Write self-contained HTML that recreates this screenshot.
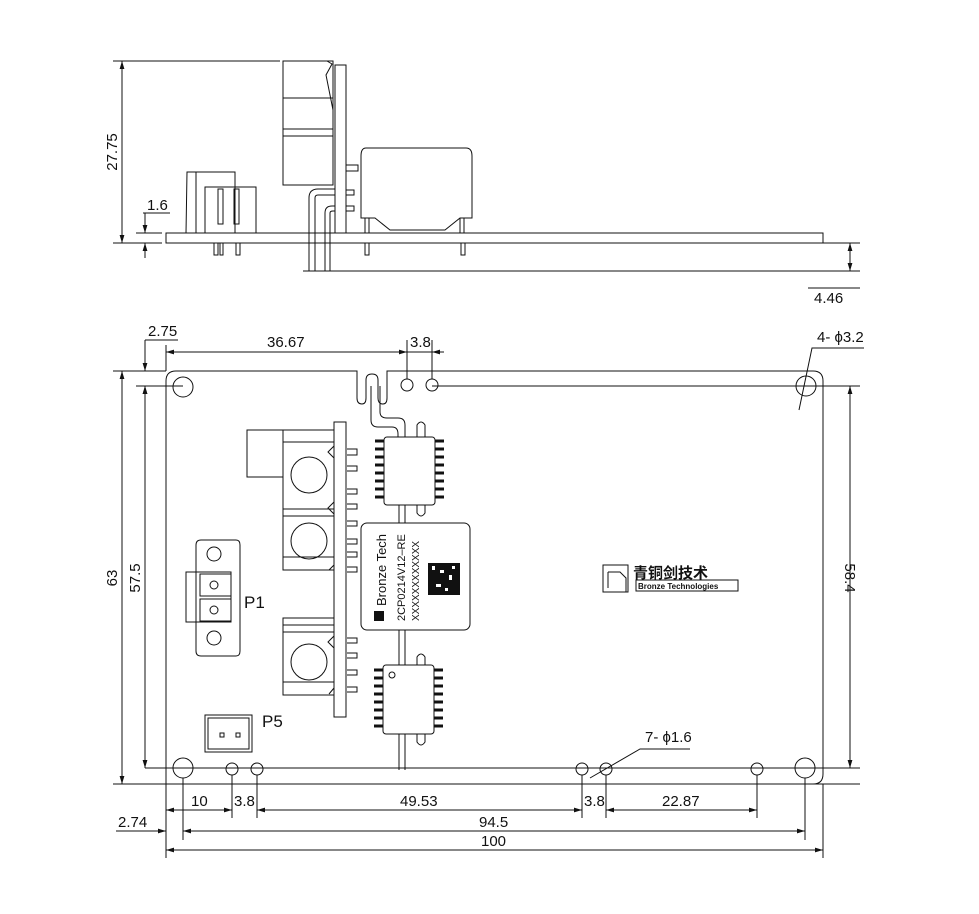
<!DOCTYPE html>
<html><head><meta charset="utf-8"><style>
html,body{margin:0;padding:0;background:#fff}
svg{display:block}
text{font-family:"Liberation Sans","Noto Sans CJK SC",sans-serif;fill:#111}
</style></head><body>
<svg width="979" height="914" viewBox="0 0 979 914" xmlns="http://www.w3.org/2000/svg">
<defs>
<marker id="a" viewBox="0 0 10 6" refX="10" refY="3" markerWidth="8" markerHeight="5" orient="auto-start-reverse"><path d="M0,0L10,3L0,6z" fill="#111"/></marker>
</defs>
<g stroke="#111" stroke-width="1" fill="none">
<line x1="113" y1="61" x2="280" y2="61"/>
<line x1="122" y1="61" x2="122" y2="243" marker-start="url(#a)" marker-end="url(#a)"/>
<line x1="113" y1="243" x2="162" y2="243"/>
<line x1="136" y1="233" x2="162" y2="233"/>
<line x1="145" y1="213" x2="145" y2="233" marker-end="url(#a)"/>
<line x1="145" y1="243" x2="145" y2="258" marker-start="url(#a)"/>
<line x1="143" y1="213" x2="170" y2="213"/>
<rect x="166" y="233" width="657" height="10"/>
<path d="M186,233 L187,172 L235,172 L235,233"/>
<rect x="205" y="187" width="51" height="46"/>
<rect x="218" y="189" width="5" height="35"/><rect x="234" y="189" width="5" height="35"/>
<line x1="196" y1="172" x2="196" y2="233"/>
<path d="M214,243v12h4v-12M220,243v12h3v-12M236,243v12h4v-12"/>
<rect x="283" y="61" width="50" height="124"/>
<line x1="283" y1="98" x2="333" y2="98"/>
<line x1="283" y1="129" x2="333" y2="129"/><line x1="283" y1="136" x2="333" y2="136"/>
<path d="M327,61 L332,64 L326,75 L333,110"/>
<rect x="335" y="65" width="11" height="168"/>
<path d="M346,165h12v6h-12M346,190h8v5h-8M346,206h8v5h-8"/>
<path d="M309,271 V198 Q309,189 318,189 H335"/>
<path d="M315,271 V198 Q315,195 318,195 H335"/>
<path d="M325,271 V213 Q325,206 332,206 H335"/>
<path d="M330,271 V213 Q330,211 333,211 H335"/>
<line x1="303" y1="271" x2="860" y2="271"/>
<path d="M366,148 H466 Q472,148 472,156 V218 H460 L445,230 H390 L375,218 H361 V156 Q361,148 366,148 Z"/>
<path d="M365,218v15M369,218v15M460,218v15M464,218v15M365,243v12h4v-12M461,243v12h4v-12"/>
<line x1="823" y1="243" x2="860" y2="243"/>
<line x1="850" y1="243" x2="850" y2="271" marker-start="url(#a)" marker-end="url(#a)"/>
<line x1="808" y1="288" x2="860" y2="288"/>

<path d="M166,784 V381 Q166,371 176,371 H357 V398 Q357,404 362,404 Q366,404 366,398 V380 Q366,374 372,374 Q378,374 378,380 V398 Q378,404 383,404 Q387,404 387,398 V371 H813 Q823,371 823,381 V774 Q823,784 813,784 Z"/>
<path d="M371,386 V420 Q371,427 378,427 H392 Q398,427 398,434 V437 M380,386 V412 Q380,418 387,418 H398 Q405,418 405,425 V437" />
<line x1="432" y1="386" x2="860" y2="386"/>
<line x1="113" y1="371" x2="166" y2="371"/>
<line x1="136" y1="386" x2="183" y2="386"/>
<line x1="113" y1="784" x2="860" y2="784"/>
<line x1="145" y1="768" x2="805" y2="768"/>
<line x1="805" y1="768" x2="860" y2="768"/>
<circle cx="183" cy="387" r="10"/><circle cx="806" cy="386" r="10"/>
<circle cx="183" cy="768" r="10"/><circle cx="805" cy="768" r="10"/>
<circle cx="407" cy="385" r="6"/><circle cx="432" cy="385" r="6"/>
<circle cx="232" cy="769" r="6"/><circle cx="257" cy="769" r="6"/>
<circle cx="582" cy="769" r="6"/><circle cx="606" cy="769" r="6"/><circle cx="757" cy="769" r="6"/>
<line x1="122" y1="371" x2="122" y2="784" marker-start="url(#a)" marker-end="url(#a)"/>
<line x1="145" y1="386" x2="145" y2="768" marker-start="url(#a)" marker-end="url(#a)"/>
<line x1="145" y1="340" x2="145" y2="371" marker-end="url(#a)"/>
<line x1="145" y1="386" x2="145" y2="400" marker-start="url(#a)"/>
<line x1="145" y1="340" x2="178" y2="340"/>
<line x1="166" y1="345" x2="166" y2="371"/>
<line x1="407" y1="340" x2="407" y2="379"/><line x1="432" y1="340" x2="432" y2="379"/>
<line x1="166" y1="352" x2="407" y2="352" marker-start="url(#a)" marker-end="url(#a)"/>
<line x1="444" y1="352" x2="432" y2="352" marker-end="url(#a)"/>
<line x1="407" y1="352" x2="432" y2="352"/>
<path d="M864,348 H812 L799,410" />
<line x1="850" y1="386" x2="850" y2="768" marker-start="url(#a)" marker-end="url(#a)"/>
<line x1="166" y1="784" x2="166" y2="858"/>
<line x1="183" y1="778" x2="183" y2="840"/>
<line x1="232" y1="775" x2="232" y2="818"/><line x1="257" y1="775" x2="257" y2="818"/>
<line x1="582" y1="775" x2="582" y2="818"/><line x1="606" y1="775" x2="606" y2="818"/>
<line x1="757" y1="775" x2="757" y2="818"/><line x1="805" y1="778" x2="805" y2="840"/>
<line x1="823" y1="784" x2="823" y2="858"/>
<line x1="166" y1="810" x2="232" y2="810" marker-start="url(#a)" marker-end="url(#a)"/>
<line x1="264" y1="810" x2="257" y2="810" marker-end="url(#a)"/>
<line x1="257" y1="810" x2="582" y2="810" marker-end="url(#a)"/>
<line x1="613" y1="810" x2="606" y2="810" marker-end="url(#a)"/>
<line x1="606" y1="810" x2="757" y2="810" marker-end="url(#a)"/>
<line x1="116" y1="831" x2="166" y2="831" marker-end="url(#a)"/>
<line x1="183" y1="831" x2="805" y2="831" marker-start="url(#a)" marker-end="url(#a)"/>
<line x1="166" y1="850" x2="823" y2="850" marker-start="url(#a)" marker-end="url(#a)"/>
<path d="M690,749 H640 L590,778"/>

<rect x="334" y="422" width="12" height="295"/>
<path d="M347,449h10v6h-10M347,466h10v5h-10M347,489h10v5h-10M347,504h10v5h-10M347,521h10v5h-10M347,539h10v5h-10M347,552h10v5h-10M347,567h10v5h-10M347,638h10v5h-10M347,653h10v5h-10M347,670h10v5h-10M347,687h10v5h-10"/>
<rect x="247" y="430" width="36" height="47"/>
<rect x="283" y="430" width="51" height="140"/>
<line x1="283" y1="442" x2="334" y2="442"/><line x1="283" y1="509" x2="334" y2="509"/><line x1="283" y1="516" x2="334" y2="516"/>
<line x1="283" y1="557" x2="334" y2="557"/>
<circle cx="309" cy="475" r="18"/><circle cx="309" cy="541" r="18"/>
<path d="M334,446 L328,452 L334,458M334,502 L328,508 L334,514M334,565 L329,570"/>
<rect x="283" y="618" width="51" height="77"/>
<line x1="283" y1="625" x2="334" y2="625"/><line x1="283" y1="632" x2="334" y2="632"/><line x1="283" y1="682" x2="334" y2="682"/>
<circle cx="309" cy="662" r="18"/>
<path d="M334,636 L328,642 L334,648M334,688 L329,694"/>
<rect x="384" y="437" width="51" height="68" rx="3"/>
<path d="M375,441h9M375,449h9M375,457h9M375,465h9M375,473h9M375,481h9M375,489h9M375,497h9M435,441h9M435,449h9M435,457h9M435,465h9M435,473h9M435,481h9M435,489h9M435,497h9" stroke-width="3"/>
<path d="M417,437V425Q421,419 425,425V437M417,505V513Q421,519 425,513V505"/>
<path d="M399,505V523M405,505V523"/>
<rect x="361" y="523" width="109" height="107" rx="6"/>
<path d="M399,630V650M405,630V650"/>
<rect x="383" y="665" width="51" height="69" rx="3"/>
<circle cx="392" cy="675" r="3"/>
<path d="M374,670h9M374,678h9M374,686h9M374,694h9M374,702h9M374,710h9M374,718h9M374,726h9M434,670h9M434,678h9M434,686h9M434,694h9M434,702h9M434,710h9M434,718h9M434,726h9" stroke-width="3"/>
<path d="M417,665V657Q421,651 425,657V665M417,734V742Q421,748 425,742V734"/>
<path d="M399,734V770M405,734V770"/>
<path d="M399,650V665M405,650V665"/>
<path d="M196,545Q196,540 201,540H236Q240,540 240,545V651Q240,656 236,656H201Q196,656 196,651Z"/>
<circle cx="214" cy="554" r="7"/><circle cx="214" cy="638" r="7"/>
<rect x="186" y="572" width="45" height="50"/>
<rect x="200" y="574" width="31" height="22"/><rect x="200" y="599" width="31" height="22"/>
<circle cx="214" cy="585" r="4"/><circle cx="214" cy="610" r="4"/>
<rect x="205" y="715" width="47" height="37"/><rect x="208" y="718" width="41" height="31"/>
<rect x="220" y="733" width="4" height="4"/><rect x="236" y="733" width="4" height="4"/>
<path d="M603,565H628V592H603Z M608,572H620L626,578V592 M608,572V588"/>
<rect x="636" y="580" width="102" height="11"/>
</g>
<g fill="#111">
<rect x="428" y="563" width="32" height="32"/>
<rect x="432" y="566" width="3" height="4" fill="#fff"/><rect x="440" y="570" width="4" height="3" fill="#fff"/>
<rect x="449" y="575" width="3" height="5" fill="#fff"/><rect x="436" y="584" width="5" height="3" fill="#fff"/>
<rect x="445" y="588" width="3" height="3" fill="#fff"/><rect x="452" y="566" width="3" height="3" fill="#fff"/>
<rect x="374" y="611" width="10" height="10"/>
</g>
<g font-size="15">
<text transform="translate(117,152) rotate(-90)" text-anchor="middle">27.75</text>
<text x="147" y="210">1.6</text>
<text x="814" y="303">4.46</text>
<text x="148" y="336">2.75</text>
<text x="267" y="347">36.67</text>
<text x="410" y="347">3.8</text>
<text x="817" y="342">4- ϕ3.2</text>
<text transform="translate(117,578) rotate(-90)" text-anchor="middle">63</text>
<text transform="translate(140,578) rotate(-90)" text-anchor="middle">57.5</text>
<text transform="translate(845,578) rotate(90)" text-anchor="middle">58.4</text>
<text x="191" y="806">10</text>
<text x="234" y="806">3.8</text>
<text x="400" y="806">49.53</text>
<text x="584" y="806">3.8</text>
<text x="662" y="806">22.87</text>
<text x="118" y="827">2.74</text>
<text x="479" y="827">94.5</text>
<text x="481" y="846">100</text>
<text x="645" y="742">7- ϕ1.6</text>
<text x="244" y="608" font-size="17">P1</text>
<text x="262" y="727" font-size="17">P5</text>
</g>
<text transform="translate(386,606) rotate(-90)" font-size="13">Bronze Tech</text>
<text transform="translate(405,621) rotate(-90)" font-size="11">2CP0214V12–RE</text>
<text transform="translate(419,621) rotate(-90)" font-size="10">XXXXXXXXXXXX</text>
<text x="633" y="578" font-size="15" font-weight="bold">青铜剑技术</text>
<text x="638" y="589" font-size="8" font-weight="bold">Bronze Technologies</text>
</svg>
</body></html>
